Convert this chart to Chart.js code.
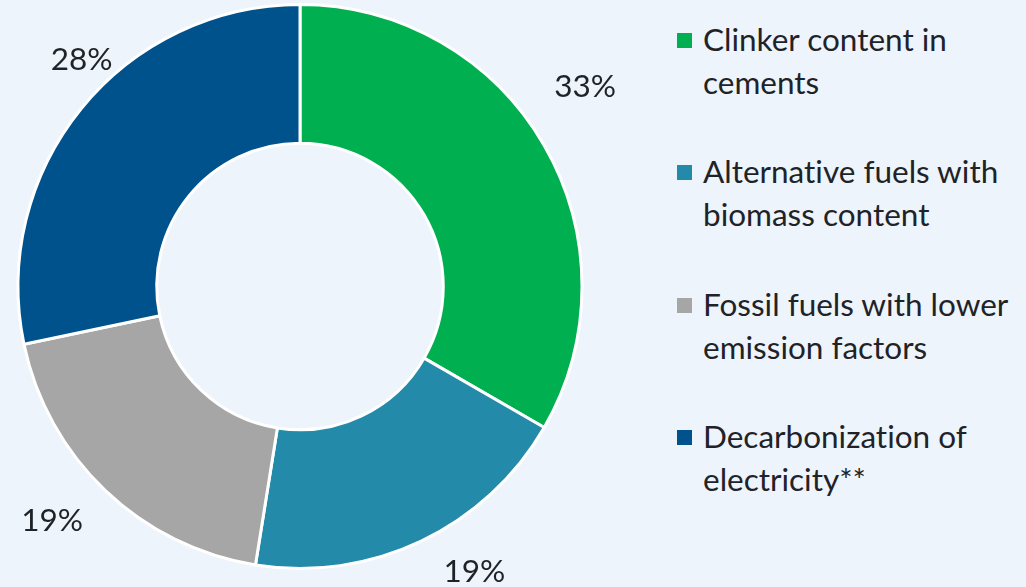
<!DOCTYPE html>
<html>
<head>
<meta charset="utf-8">
<script src="https://cdn.jsdelivr.net/npm/chart.js@4.4.0/dist/chart.umd.min.js"></script>
<style>
	html, body { margin: 0; padding: 0; background: #eef4fb; }
	#wrap { position: relative; width: 1026px; height: 587px; overflow: hidden; font-family: Lato, sans-serif; color: #1f2328; font-variant-ligatures: none; }
	#donut { position: absolute; left: 0; top: 0; }
	#legend { position: absolute; left: 677px; top: 0; }
	.item { position: absolute; left: 0; width: 345px; font-size: 31.5px; line-height: 43px; }
	.item .box { position: absolute; left: 0; top: 15px; width: 15px; height: 15px; }
	.item .txt { position: absolute; left: 26px; top: 0; white-space: nowrap; }
</style>
</head>
<body>
<div id="wrap">
	<canvas id="donut" width="640" height="587"></canvas>
	<div id="legend"></div>
</div>
<script>
// =================== DATA ===================
const categories = [
	["Clinker content in", "cements"],
	["Alternative fuels with", "biomass content"],
	["Fossil fuels with lower", "emission factors"],
	["Decarbonization of", "electricity**"],
];
const shares = [33, 19, 19, 28];
const sliceColors = ["#00b050", "#238aaa", "#a6a6a6", "#00528c"];

// =================== LEGEND ===================
const legend = document.getElementById("legend");
categories.forEach((lines, i) => {
	const item = document.createElement("div");
	item.className = "item";
	item.style.top = `${18 + i * 132.3}px`;
	item.innerHTML = `<div class="box" style="background:${sliceColors[i]}"></div><div class="txt">${lines.join("<br>")}</div>`;
	legend.appendChild(item);
});

// =================== LABEL PLUGIN ===================
const outsideLabels = {
	id: "outsideLabels",
	afterDatasetsDraw(chart, args, opts) {
		const { ctx } = chart;
		const meta = chart.getDatasetMeta(0);
		ctx.save();
		ctx.font = `${opts.size}px Lato, sans-serif`;
		ctx.fillStyle = "#1f2328";
		ctx.textAlign = "center";
		ctx.textBaseline = "middle";
		meta.data.forEach((arc, i) => {
			const { x, y, startAngle, endAngle, outerRadius } = arc.getProps(
				["x", "y", "startAngle", "endAngle", "outerRadius"],
				true,
			);
			const nudge = opts.nudge[i] || [0, 0];
			const a = (startAngle + endAngle) / 2 + (nudge[0] * Math.PI) / 180;
			const r = outerRadius + nudge[1];
			ctx.fillText(`${shares[i]}%`, x + Math.cos(a) * r, y + Math.sin(a) * r);
		});
		ctx.restore();
	},
};

// =================== CHART ===================
new Chart(document.getElementById("donut"), {
	type: "doughnut",
	data: {
		labels: categories.map((l) => l.join(" ")),
		datasets: [
			{
				data: shares,
				backgroundColor: sliceColors,
				borderColor: "#ffffff",
				borderWidth: 3,
			},
		],
	},
	options: {
		responsive: false,
		animation: false,
		cutout: "50.8%",
		layout: { padding: { left: 16, right: 56, top: 3, bottom: 17 } },
		plugins: {
			legend: { display: false },
			tooltip: { enabled: false },
			outsideLabels: {
				size: 31.5,
				// [angle shift in degrees, distance beyond the rim]
				nudge: [
					[-5, 66],
					[-6, 52],
					[3, 59],
					[7, 33],
				],
			},
		},
	},
	plugins: [outsideLabels],
});
</script>
</body>
</html>
